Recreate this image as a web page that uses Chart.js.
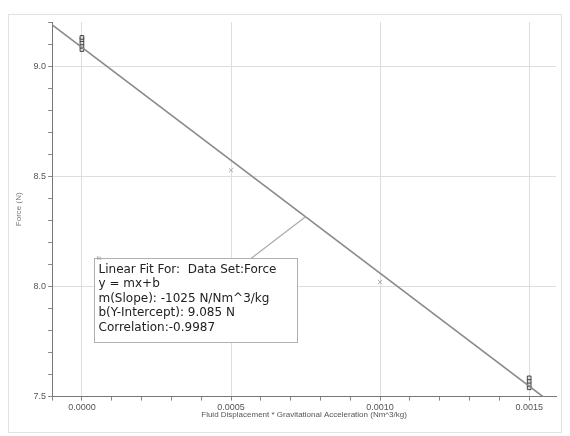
<!DOCTYPE html>
<html>
<head>
<meta charset="utf-8">
<script src="https://cdn.jsdelivr.net/npm/chart.js@4"></script>
<style>
  html, body { margin: 0; padding: 0; background: #fff; }
  #wrap { width: 570px; height: 436px; position: relative; }
</style>
</head>
<body>
<div id="wrap"><canvas id="chart"></canvas></div>
<script>
// measured points (x = displacement * g, y = force)
const startX = [0, 0, 0, 0, 0]
const startForce = [9.075, 9.09, 9.105, 9.12, 9.13]
const endX = [0.0015, 0.0015, 0.0015, 0.0015]
const endForce = [7.54, 7.555, 7.57, 7.585]
const midX = [0.0005, 0.001]
const midForce = [8.527, 8.02]

// linear fit as shown in the box
const slope = -1025
const intercept = 9.085
const fitRange = [-0.0002, 0.0017]
const fitLines = [
    'Linear Fit For:  Data Set:Force',
    'y = mx+b',
    'm(Slope): -1025 N/Nm^3/kg',
    'b(Y-Intercept): 9.085 N',
    'Correlation:-0.9987',
]
const calloutX = 0.00075

const isMajor = (v, step) => Math.abs(v / step - Math.round(v / step)) < 1e-6

const frame = {
    id: 'frame',
    beforeDraw(chart) {
        const c = chart.ctx
        c.save()
        c.strokeStyle = '#e2e2e2'
        c.lineWidth = 1
        c.strokeRect(8.5, 14.5, 553, 418)
        c.restore()
    },
}

const fitBox = {
    id: 'fitBox',
    afterDraw(chart) {
        const c = chart.ctx
        const xs = chart.scales.x
        const ys = chart.scales.y
        const px = xs.getPixelForValue(calloutX)
        const py = ys.getPixelForValue(slope * calloutX + intercept)
        const bx = 94.5, by = 258.5, bw = 203, bh = 84
        c.save()
        c.strokeStyle = '#aaa'
        c.lineWidth = 1.2
        c.beginPath()
        c.moveTo(251, by)
        c.lineTo(px, py)
        c.stroke()
        c.fillStyle = '#fff'
        c.fillRect(bx, by, bw, bh)
        c.strokeStyle = '#b0b0b0'
        c.lineWidth = 1
        c.strokeRect(bx, by, bw, bh)
        c.fillStyle = '#999'
        c.font = '6px Arial, "Liberation Sans", sans-serif'
        c.textBaseline = 'alphabetic'
        c.fillText('fit', bx + 2, by + 1)
        c.fillStyle = '#222'
        c.font = '12px "DejaVu Sans", sans-serif'
        c.textBaseline = 'middle'
        fitLines.forEach((t, i) => c.fillText(t, bx + 4, by + 11 + i * 14.5))
        c.restore()
    },
}

const toPts = (xs, ys) => xs.map((x, i) => ({ x, y: ys[i] }))

new Chart(document.getElementById('chart'), {
    type: 'scatter',
    data: {
        datasets: [
            {
                label: 'fit',
                type: 'line',
                data: fitRange.map((x) => ({ x, y: slope * x + intercept })),
                borderColor: '#8a8a8a',
                borderWidth: 1.6,
                pointRadius: 0,
                fill: false,
            },
            {
                label: 'Force',
                data: toPts(startX, startForce).concat(toPts(endX, endForce)),
                pointStyle: 'rect',
                pointRadius: 2.6,
                backgroundColor: '#ddd',
                borderColor: '#444',
                borderWidth: 1,
            },
            {
                label: 'Force mid',
                data: toPts(midX, midForce),
                pointStyle: 'crossRot',
                pointRadius: 3,
                borderColor: '#aaa',
                borderWidth: 1,
            },
        ],
    },
    options: {
        responsive: true,
        maintainAspectRatio: false,
        animation: false,
        layout: { padding: { top: 22, right: 14, bottom: 16, left: 14 } },
        plugins: { legend: { display: false }, tooltip: { enabled: false } },
        scales: {
            x: {
                type: 'linear',
                min: -0.0001,
                max: 0.00159,
                border: { color: '#777', width: 1 },
                grid: {
                    color: (ctx) => (ctx.tick && isMajor(ctx.tick.value, 0.0005) ? '#dedede' : 'rgba(0,0,0,0)'),
                    tickColor: '#888',
                    tickLength: 4,
                },
                ticks: {
                    stepSize: 0.0001,
                    includeBounds: false,
                    autoSkip: false,
                    maxRotation: 0,
                    padding: 2,
                    color: '#555',
                    font: { size: 9, family: 'Arial, "Liberation Sans", sans-serif' },
                    callback: (v) => (isMajor(v, 0.0005) ? (Math.abs(v) < 1e-9 ? 0 : v).toFixed(4) : ''),
                },
                title: {
                    display: true,
                    text: 'Fluid Displacement * Gravitational Acceleration (Nm^3/kg)',
                    color: '#555',
                    font: { size: 8, family: 'Arial, "Liberation Sans", sans-serif' },
                    padding: { top: -5, bottom: 0 },
                },
            },
            y: {
                min: 7.5,
                max: 9.2,
                border: { color: '#777', width: 1 },
                grid: {
                    color: (ctx) => (ctx.tick && isMajor(ctx.tick.value, 0.5) && ctx.tick.value > 7.6 ? '#dedede' : 'rgba(0,0,0,0)'),
                    tickColor: '#888',
                    tickLength: 4,
                },
                ticks: {
                    stepSize: 0.1,
                    includeBounds: false,
                    autoSkip: false,
                    padding: 2,
                    color: '#555',
                    font: { size: 9, family: 'Arial, "Liberation Sans", sans-serif' },
                    callback: (v) => (isMajor(v, 0.5) ? v.toFixed(1) : ''),
                },
                title: {
                    display: true,
                    text: 'Force (N)',
                    color: '#777',
                    font: { size: 8, family: 'Arial, "Liberation Sans", sans-serif' },
                    padding: { top: 0, bottom: 8 },
                },
            },
        },
    },
    plugins: [frame, fitBox],
})
</script>
</body>
</html>
